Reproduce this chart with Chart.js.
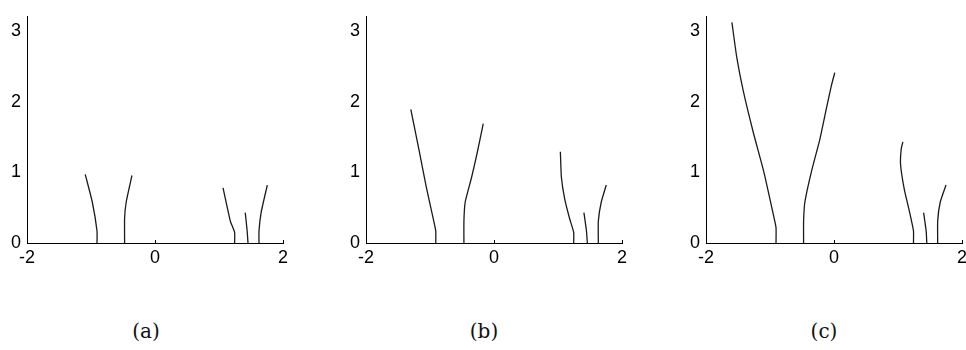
<!DOCTYPE html>
<html>
<head>
<meta charset="utf-8">
<script src="https://cdn.jsdelivr.net/npm/chart.js@4/dist/chart.umd.min.js"></script>
<style>
  html, body { margin: 0; padding: 0; background: #fff; overflow: hidden; }
  body { position: relative; width: 966px; height: 350px; }
  canvas { position: absolute; top: 0; }
  .cap { position: absolute; top: 319px; width: 80px; margin-left: -40px; text-align: center;
         font-family: "DejaVu Serif", serif; font-size: 20px; color: #111; }
</style>
</head>
<body>
<canvas id="ca" width="300" height="280" style="left:0px"></canvas>
<canvas id="cb" width="300" height="280" style="left:339px"></canvas>
<canvas id="cc" width="300" height="280" style="left:679px"></canvas>
<div class="cap" style="left:146px">(a)</div>
<div class="cap" style="left:484px">(b)</div>
<div class="cap" style="left:824px">(c)</div>
<script>
// axis ticks
const xTicks = [-2, 0, 2];
const yTicks = [0, 1, 2, 3];
const captions = ['(a)', '(b)', '(c)'];

// branches, panel (a)
const a1 = [[-0.906, 0], [-0.906, 0.17], [-0.98, 0.58], [-1.09, 0.97]];
const a2 = [[-0.475, 0], [-0.475, 0.35], [-0.45, 0.58], [-0.36, 0.955]];
const a3 = [[1.244, 0], [1.244, 0.15], [1.177, 0.31], [1.063, 0.78]];
const a4 = [[1.453, 0], [1.44, 0.17], [1.41, 0.43]];
const a5 = [[1.625, 0], [1.625, 0.17], [1.66, 0.44], [1.755, 0.82]];

// panel (b)
const b1 = [[-0.91, 0], [-0.91, 0.17], [-0.946, 0.33], [-1.06, 0.8], [-1.175, 1.33], [-1.30, 1.89]];
const b2 = [[-0.47, 0], [-0.47, 0.31], [-0.45, 0.58], [-0.35, 0.93], [-0.27, 1.245], [-0.168, 1.69]];
const b3 = [[1.245, 0], [1.245, 0.15], [1.18, 0.35], [1.105, 0.62], [1.053, 0.93], [1.037, 1.29]];
const b4 = [[1.458, 0], [1.445, 0.17], [1.405, 0.43]];
const b5 = [[1.63, 0], [1.63, 0.31], [1.676, 0.58], [1.754, 0.82]];

// panel (c)
const c1 = [[-0.906, 0], [-0.906, 0.22], [-0.957, 0.44], [-1.10, 1.02], [-1.26, 1.56], [-1.415, 2.14], [-1.52, 2.63], [-1.595, 3.12]];
const c2 = [[-0.475, 0], [-0.475, 0.31], [-0.455, 0.58], [-0.35, 1.02], [-0.22, 1.47], [-0.117, 1.91], [-0.04, 2.23], [0.012, 2.41]];
const c3 = [[1.242, 0], [1.242, 0.17], [1.18, 0.44], [1.10, 0.75], [1.04, 1.11], [1.05, 1.33], [1.076, 1.43]];
const c4 = [[1.45, 0], [1.44, 0.17], [1.40, 0.43]];
const c5 = [[1.62, 0], [1.62, 0.31], [1.66, 0.58], [1.75, 0.82]];

const panels = [
  { id: 'ca', curves: [a1, a2, a3, a4, a5] },
  { id: 'cb', curves: [b1, b2, b3, b4, b5] },
  { id: 'cc', curves: [c1, c2, c3, c4, c5] }
];

// small inward tick marks like matlab
const innerTicks = {
  id: 'innerTicks',
  afterDraw(chart) {
    const ctx = chart.ctx, x = chart.scales.x, y = chart.scales.y;
    ctx.save();
    ctx.strokeStyle = '#000';
    ctx.lineWidth = 1;
    ctx.beginPath();
    xTicks.forEach(v => {
      const px = Math.round(x.getPixelForValue(v)) + 0.5;
      ctx.moveTo(px, y.bottom);
      ctx.lineTo(px, y.bottom - 3);
    });
    ctx.stroke();
    ctx.restore();
  }
};

const tickFont = { family: 'Liberation Sans, Arial, sans-serif', size: 18 };

panels.forEach(p => {
  new Chart(document.getElementById(p.id), {
    type: 'scatter',
    data: {
      datasets: p.curves.map(c => ({
        data: c.map(pt => ({ x: pt[0], y: pt[1] })),
        showLine: true,
        borderColor: '#1a1a1a',
        borderWidth: 1.3,
        pointRadius: 0,
        tension: 0.15
      }))
    },
    options: {
      responsive: false,
      animation: false,
      devicePixelRatio: 1,
      layout: { padding: { top: 4, right: 17, left: 0, bottom: 0 } },
      plugins: { legend: { display: false }, tooltip: { enabled: false } },
      scales: {
        x: {
          type: 'linear', min: -2, max: 2,
          afterBuildTicks: s => { s.ticks = xTicks.map(v => ({ value: v })); },
          afterFit: s => { s.height = 37; },
          grid: { display: true, drawOnChartArea: false, drawTicks: false },
          border: { display: true, color: '#000', width: 1 },
          ticks: { color: '#000', font: tickFont, padding: 4, maxRotation: 0 }
        },
        y: {
          type: 'linear', min: 0, max: 3.2,
          afterBuildTicks: s => { s.ticks = yTicks.map(v => ({ value: v })); },
          afterFit: s => { s.width = 27; },
          grid: { display: true, drawOnChartArea: false, drawTicks: false },
          border: { display: true, color: '#000', width: 1 },
          ticks: { color: '#000', font: tickFont, padding: 6 }
        }
      }
    },
    plugins: [innerTicks]
  });
});
</script>
</body>
</html>
